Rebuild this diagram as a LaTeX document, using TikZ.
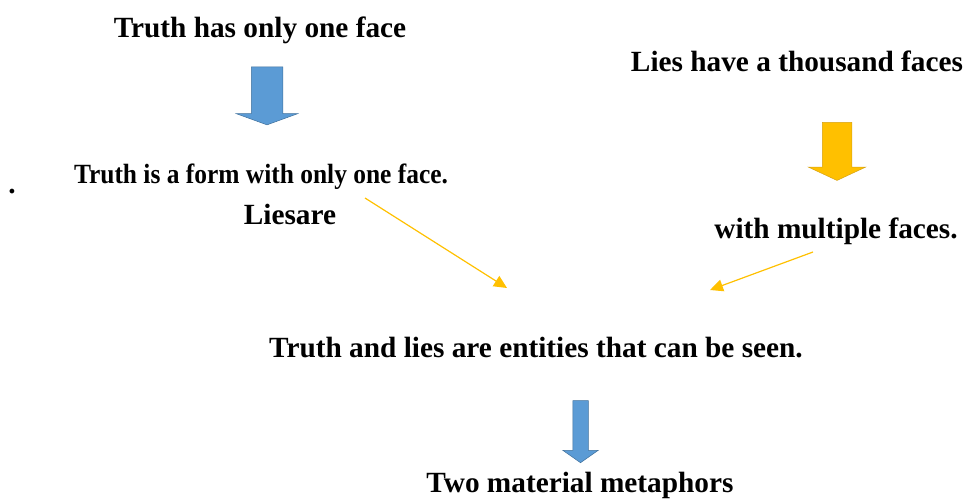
\documentclass[tikz,border=0pt]{standalone}
\usepackage{fontspec}
\setmainfont{Liberation Serif}
\usepackage{xcolor}
\definecolor{arrblue}{RGB}{91, 155, 213}
\definecolor{arrblueline}{RGB}{65, 113, 156}
\definecolor{arryellow}{RGB}{255, 192, 0}
\definecolor{arryellowline}{RGB}{214, 162, 20}
\usetikzlibrary{shapes.arrows,arrows.meta,positioning}

\tikzset{
    label text/.style={font=\fontsize{29.3}{34}\selectfont\bfseries, inner sep=0pt, anchor=base},
    down arrow/.style={single arrow, shape border rotate=270, single arrow head indent=0pt, line width=0.5pt},
    thin link/.style={draw=arryellow, line width=1.2pt, -{Triangle[length=13pt, width=12pt]}}
}

\begin{document}
\begin{tikzpicture}[x=1pt, y=-1pt]
    \useasboundingbox (0,0) rectangle (965,498);

    % Texts
    \node[label text] (onefacetitle) at (260, 37) {Truth has only one face};
    \node[label text] (thousandtitle) at (797, 71) {Lies have a thousand faces};
    \node[label text, font=\fontsize{27.8}{32}\selectfont\bfseries, xscale=0.915] (formone) at (261, 183) {Truth is a form with only one face.};
    \node[label text] (liesare) at (290, 224) {Liesare};
    \node[label text] (multiple) at (836, 238) {with multiple faces.};
    \node[label text] (entities) at (536, 357) {Truth and lies are entities that can be seen.};
    \node[label text] (metaphors) at (580, 492) {Two material metaphors};
    \node[label text] (dot) at (12, 193) {.};

    % Block arrows
    \node[down arrow, draw=arrblueline, fill=arrblue, inner sep=15.5pt,
          minimum height=58pt, single arrow head extend=15pt,
          single arrow tip angle=140] (bluearrow) at (267, 93) {};
    \node[down arrow, draw=arryellowline, fill=arryellow, inner sep=14.5pt,
          minimum height=58pt, single arrow head extend=14pt,
          single arrow tip angle=130] (yellowarrow) at (837, 148) {};
    \node[down arrow, draw=arrblueline, fill=arrblue, inner sep=7.5pt,
          minimum height=62pt, single arrow head extend=10pt,
          single arrow tip angle=110] (lowarrow) at (580.5, 429) {};

    % Thin links
    \coordinate (leftstart) at (365, 198);
    \coordinate (leftend) at (507, 288);
    \coordinate (rightstart) at (813, 252);
    \coordinate (rightend) at (710, 290);
    \draw[thin link] (leftstart) -- (leftend);
    \draw[thin link] (rightstart) -- (rightend);
\end{tikzpicture}
\end{document}
